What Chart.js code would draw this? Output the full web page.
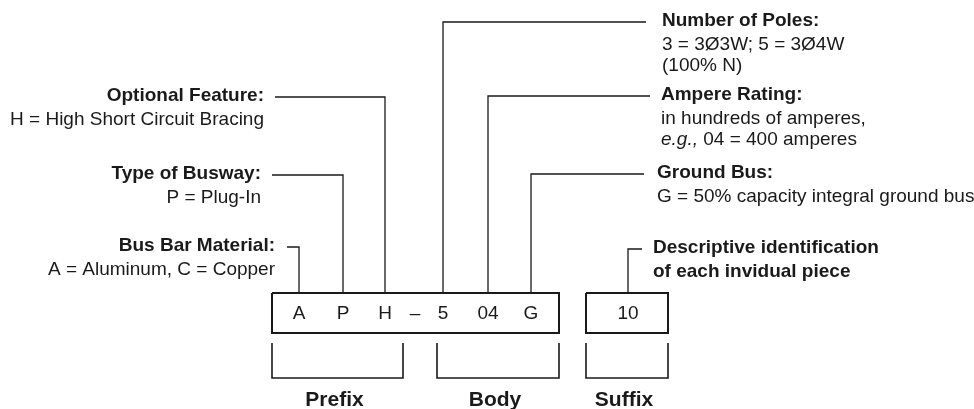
<!DOCTYPE html>
<html lang="en">
<head>
    <meta charset="UTF-8">
    <title>Busway Catalog Number</title>
    <script src="https://cdn.jsdelivr.net/npm/chart.js"></script>
    <style>
        body { margin: 0; background: #fff; }
        canvas { display: block; }
    </style>
</head>
<body>
    <canvas id="chart" width="974" height="409"></canvas>

    <script>
        // catalog number characters and where they sit along the box
        const codeChars = ['A', 'P', 'H', '–', '5', '04', 'G'];
        const codeX = [299, 343, 385, 415, 443, 488, 531];
        const suffixChars = ['10'];
        const suffixX = [628];

        // callouts, left side first then right side
        const calloutTitles = ['Bus Bar Material:', 'Type of Busway:', 'Optional Feature:',
            'Number of Poles:', 'Ampere Rating:', 'Ground Bus:', 'Descriptive identification'];
        const calloutNotes = [
            ['A = Aluminum, C = Copper'],
            ['P = Plug-In'],
            ['H = High Short Circuit Bracing'],
            ['3 = 3Ø3W; 5 = 3Ø4W', '(100% N)'],
            ['in hundreds of amperes,', 'e.g., 04 = 400 amperes'],
            ['G = 50% capacity integral ground bus'],
            ['of each invidual piece']
        ];
        const calloutSide = ['left', 'left', 'left', 'right', 'right', 'right', 'right'];
        const calloutTextX = [275, 261, 264, 662, 661, 657, 653];
        const calloutY = [247, 175, 97, 22, 96, 174, 249];
        const leaderStartX = [287, 272, 275, 646, 650, 644, 642];
        const leaderEndX = [299, 343, 385, 443, 488, 531, 628];

        // boxes and brackets
        const boxTop = 293, boxBottom = 333;
        const mainBox = [272, 559];
        const suffixBox = [586, 668];
        const groupNames = ['Prefix', 'Body', 'Suffix'];
        const groupSpans = [[272, 403], [437, 559], [586, 668]];
        const bracketTop = 343, bracketBottom = 378, groupLabelY = 400;

        const ink = '#1a1a1a';
        const family = '"Liberation Sans", Arial, sans-serif';

        function pts(arr) { return arr.map(p => ({ x: p[0], y: p[1] })); }
        function lineSet(arr, w) {
            return { data: pts(arr), showLine: true, pointRadius: 0, borderColor: ink,
                     borderWidth: w, fill: false, clip: false, tension: 0 };
        }

        let datasets = [];
        leaderStartX.forEach((sx, i) => {
            datasets.push(lineSet([[sx, calloutY[i]], [leaderEndX[i], calloutY[i]], [leaderEndX[i], boxTop]], 1.3));
        });
        [mainBox, suffixBox].forEach(b => {
            datasets.push(lineSet([[b[0], boxTop], [b[1], boxTop], [b[1], boxBottom], [b[0], boxBottom], [b[0], boxTop]], 2));
        });
        groupSpans.forEach(s => {
            datasets.push(lineSet([[s[0], bracketTop], [s[0], bracketBottom], [s[1], bracketBottom], [s[1], bracketTop]], 1.6));
        });

        const textPlugin = {
            id: 'diagramText',
            afterDatasetsDraw(chart) {
                const ctx = chart.ctx;
                const xs = chart.scales.x, ys = chart.scales.y;
                const X = v => xs.getPixelForValue(v), Y = v => ys.getPixelForValue(v);
                ctx.save();
                ctx.fillStyle = ink;
                ctx.textBaseline = 'middle';

                // characters inside the boxes
                ctx.font = '19px ' + family;
                ctx.textAlign = 'center';
                codeChars.forEach((c, i) => ctx.fillText(c, X(codeX[i]), Y(314)));
                suffixChars.forEach((c, i) => ctx.fillText(c, X(suffixX[i]), Y(314)));

                // group names under brackets
                ctx.font = 'bold 21px ' + family;
                groupNames.forEach((n, i) => {
                    ctx.fillText(n, X((groupSpans[i][0] + groupSpans[i][1]) / 2 - 3), Y(groupLabelY));
                });

                // callouts: left-side text is right-aligned against its leader
                calloutTitles.forEach((t, i) => {
                    const align = calloutSide[i] === 'left' ? 'right' : 'left';
                    const x = X(calloutTextX[i]);
                    let y = calloutY[i] - 1;
                    ctx.textAlign = align;
                    ctx.font = 'bold 19px ' + family;
                    ctx.fillText(t, x, Y(y));
                    y += 24;
                    calloutNotes[i].forEach(line => {
                        const bold = i === 6;
                        if (line.startsWith('e.g.,')) {
                            const head = 'e.g.,';
                            ctx.textAlign = 'left';
                            ctx.font = 'italic 19px ' + family;
                            ctx.fillText(head, x, Y(y));
                            const w = ctx.measureText(head).width;
                            ctx.font = '19px ' + family;
                            ctx.fillText(line.slice(head.length), x + w, Y(y));
                        } else {
                            ctx.textAlign = align;
                            ctx.font = (bold ? 'bold ' : '') + '19px ' + family;
                            ctx.fillText(line, x, Y(y));
                        }
                        y += 21;
                    });
                });
                ctx.restore();
            }
        };

        new Chart(document.getElementById('chart'), {
            type: 'scatter',
            data: { datasets: datasets },
            options: {
                responsive: false,
                animation: false,
                layout: { padding: 0 },
                plugins: { legend: { display: false }, tooltip: { enabled: false } },
                scales: {
                    x: { type: 'linear', min: 0, max: 974, display: false },
                    y: { type: 'linear', min: 0, max: 409, reverse: true, display: false }
                }
            },
            plugins: [textPlugin]
        });
    </script>
</body>
</html>
